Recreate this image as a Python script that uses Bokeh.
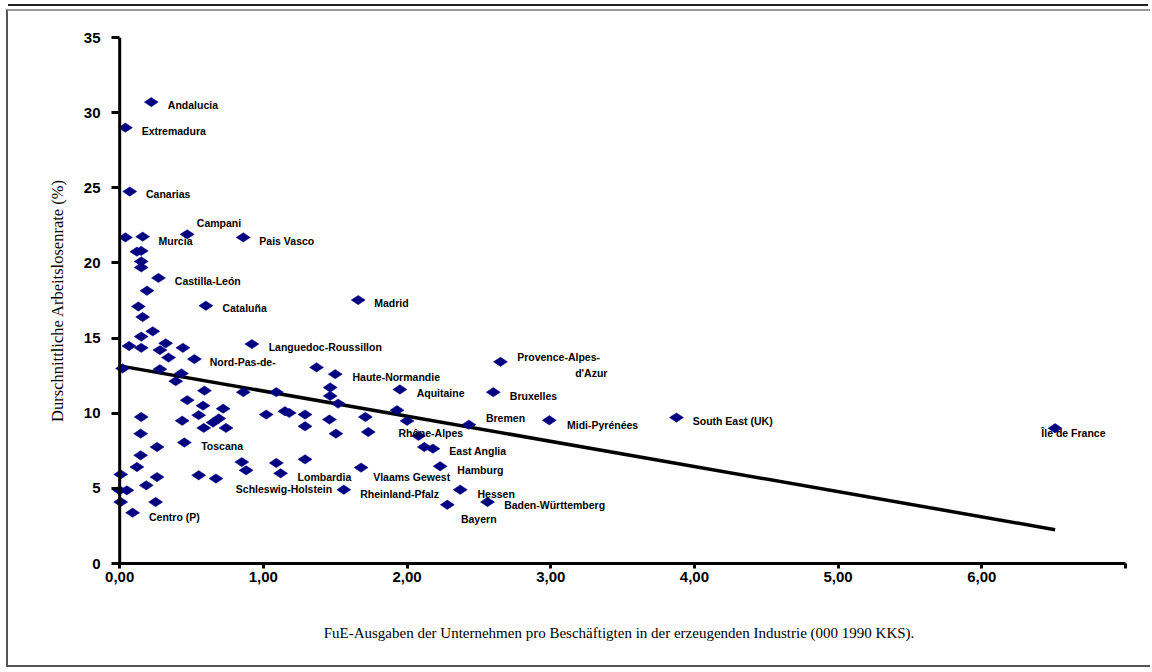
import math
from bokeh.plotting import figure
from bokeh.models import ColumnDataSource, FixedTicker, Span
from bokeh.embed import file_html
from bokeh.resources import INLINE
from bokeh.core.properties import value

# R&D spending of enterprises per employee in manufacturing (000 1990 PPS)
rd_spend = [
    0.22, 0.04, 0.07, 0.04, 0.16, 0.47, 0.86, 0.12, 0.15, 0.15,
    0.15, 0.27, 0.19, 0.60, 0.13, 0.16, 0.23, 0.15, 0.065, 0.15,
    0.32, 0.28, 0.44, 0.34, 0.52, 0.92, 0.02, 0.28, 0.43, 0.39,
    1.37, 0.59, 0.86, 1.09, 0.47, 0.58, 0.72, 0.15, 0.435, 0.55,
    0.69, 0.65, 0.585, 0.74, 1.02, 1.15, 1.18, 1.29, 1.29, 1.46,
    0.146, 0.45, 0.26, 0.146, 0.12, 0.007, 0.85, 0.88, 1.09, 1.12,
    1.29, 0.55, 0.67, 0.26, 0.185, 0.0, 0.05, 0.007, 0.25, 0.09,
    1.66, 1.50, 1.465, 1.465, 1.52, 1.505, 1.71, 1.73, 1.95, 1.93,
    2.00, 2.08, 2.12, 2.18, 2.23, 2.43, 2.60, 2.65, 2.99, 1.68,
    1.56, 2.37, 2.28, 2.56, 3.875, 6.51,
]
# Average unemployment rate (%)
unemployment = [
    30.7, 29.0, 24.75, 21.7, 21.75, 21.9, 21.7, 20.75, 20.8, 20.1,
    19.7, 19.0, 18.15, 17.15, 17.1, 16.4, 15.45, 15.1, 14.47, 14.35,
    14.65, 14.2, 14.35, 13.7, 13.6, 14.6, 12.98, 12.93, 12.65, 12.13,
    13.05, 11.5, 11.4, 11.4, 10.87, 10.5, 10.3, 9.75, 9.5, 9.87,
    9.65, 9.38, 9.02, 9.02, 9.91, 10.13, 10.02, 9.91, 9.13, 9.58,
    8.64, 8.05, 7.75, 7.2, 6.42, 5.93, 6.75, 6.2, 6.69, 6.0,
    6.93, 5.87, 5.65, 5.75, 5.2, 4.87, 4.87, 4.09, 4.09, 3.38,
    17.53, 12.6, 11.71, 11.15, 10.64, 8.64, 9.75, 8.75, 11.58, 10.2,
    9.49, 8.49, 7.75, 7.64, 6.47, 9.24, 11.4, 13.42, 9.53, 6.38,
    4.91, 4.91, 3.91, 4.09, 9.71, 9.0,
]

# Region labels and where their text starts (data units)
label_names = [
    "Andalucia", "Extremadura", "Canarias", "Campani", "Murcia", "Pais Vasco",
    "Castilla-León", "Cataluña", "Languedoc-Roussillon", "Nord-Pas-de-",
    "Toscana", "Lombardia", "Schleswig-Holstein", "Centro (P)", "Madrid",
    "Haute-Normandie", "Aquitaine", "Provence-Alpes-", "d'Azur", "Bruxelles",
    "Bremen", "Midi-Pyrénées", "Rhône-Alpes", "East Anglia", "Hamburg",
    "Vlaams Gewest", "Rheinland-Pfalz", "Hessen", "Baden-Württemberg",
    "Bayern", "South East (UK)", "Île de France",
]
label_x = [
    0.335, 0.153, 0.183, 0.537, 0.271, 0.972,
    0.384, 0.715, 1.037, 0.627,
    0.567, 1.238, 0.808, 0.204, 1.771,
    1.62, 2.067, 2.766, 3.17, 2.715,
    2.549, 3.113, 1.94, 2.294, 2.35,
    1.764, 1.674, 2.49, 2.676,
    2.375, 3.988, 6.414,
]
label_y = [
    30.53, 28.75, 24.58, 22.65, 21.49, 21.49,
    18.78, 16.98, 14.4, 13.38,
    7.8, 5.75, 4.98, 3.09, 17.31,
    12.38, 11.36, 13.76, 12.69, 11.16,
    9.71, 9.24, 8.71, 7.49, 6.24,
    5.75, 4.64, 4.64, 3.87,
    2.98, 9.49, 8.69,
]

# Linear trend line
trend_intercept = 13.15
trend_slope = -1.674

x_ticks = [0, 1, 2, 3, 4, 5, 6, 7]
x_tick_labels = ["0,00", "1,00", "2,00", "3,00", "4,00", "5,00", "6,00", ""]
y_ticks = [0, 5, 10, 15, 20, 25, 30, 35]

x_title = "FuE-Ausgaben der Unternehmen pro Beschäftigten in der erzeugenden Industrie (000 1990 KKS)."
y_title = "Durschnittliche Arbeitslosenrate (%)"

p = figure(
    width=1144, height=658,
    x_range=(-0.05, 7.0), y_range=(0, 35),
    output_backend="svg", toolbar_location=None,
    min_border_left=104, min_border_right=27,
    min_border_top=26, min_border_bottom=106,
    background_fill_color="white", border_fill_color="white",
    styles={
        "margin": "9px 0px 0px 6px",
        "border-left": "2px solid #555555",
        "border-top": "2px solid #999999",
        "border-bottom": "2px solid #555555",
        "box-shadow": "0px -5px 0px -2px white, 0px -7px 0px -2px #222222",
    },
)
p.outline_line_color = None
p.grid.visible = False

for ax in (p.xaxis[0], p.yaxis[0]):
    ax.axis_line_width = 3
    ax.axis_line_color = "black"
    ax.major_tick_line_width = 3
    ax.major_tick_line_color = "black"
    ax.major_tick_out = 5
    ax.major_tick_in = 0
    ax.minor_tick_line_color = None
    ax.major_label_text_font = "Liberation Sans"
    ax.major_label_text_font_style = "bold"
    ax.major_label_text_font_size = "15px"
    ax.major_label_text_color = "black"
    ax.axis_label_text_font = "Liberation Serif"
    ax.axis_label_text_font_style = "normal"
    ax.axis_label_text_color = "black"

p.xaxis[0].ticker = FixedTicker(ticks=x_ticks)
p.xaxis[0].major_label_overrides = {t: s for t, s in zip(x_ticks, x_tick_labels)}
p.xaxis[0].major_label_standoff = 3
p.xaxis[0].axis_label = x_title
p.xaxis[0].axis_label_text_font_size = "15px"
p.xaxis[0].axis_label_standoff = 40

# y axis sits at the frame edge; its visible line is drawn at x = 0
yax = p.yaxis[0]
yax.ticker = FixedTicker(ticks=y_ticks)
yax.axis_line_color = None
yax.major_tick_out = 1
yax.major_tick_in = 7
yax.major_label_standoff = 11
yax.axis_label = y_title
yax.axis_label_text_font_size = "16.5px"
yax.axis_label_standoff = 14
p.add_layout(Span(location=0, dimension="height", line_color="black", line_width=3))

# trend line
tx = [0.0, max(rd_spend)]
ty = [trend_intercept + trend_slope * v for v in tx]
p.line(tx, ty, line_color="black", line_width=3.5)

src = ColumnDataSource(dict(x=rd_spend, y=unemployment))
p.scatter("x", "y", source=src, marker="diamond", size=14, angle=math.pi / 2,
          fill_color="#000080", line_color="#000080", line_width=0.5)

lsrc = ColumnDataSource(dict(x=label_x, y=label_y, t=label_names))
p.text("x", "y", text="t", source=lsrc, text_font=value("Liberation Sans"),
       text_font_style="bold", text_font_size="10.5px", text_color="black",
       text_align="left", text_baseline="middle")

open("out.html", "w").write(file_html(p, INLINE))
